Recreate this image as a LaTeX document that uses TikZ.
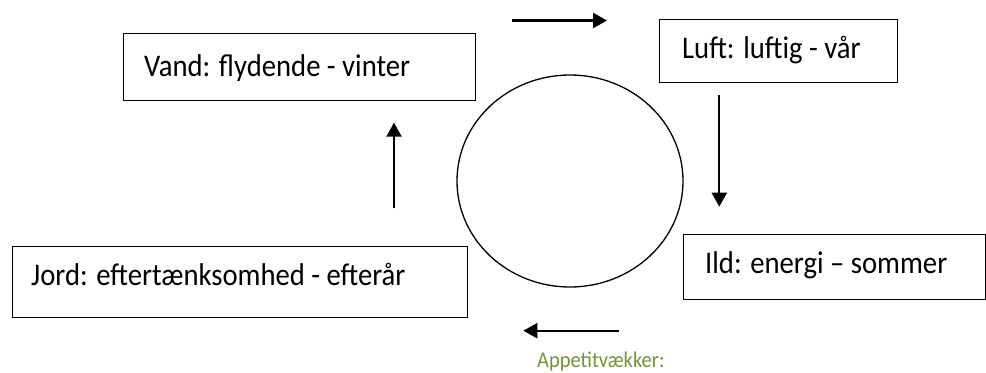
\documentclass[tikz,border=0pt]{standalone}
\usepackage{fontspec}
\setmainfont{Carlito}[FakeStretch=0.91]
\usetikzlibrary{arrows.meta,shapes.geometric}
\definecolor{olivegreen}{RGB}{118,146,60}
\begin{document}
\begin{tikzpicture}[x=1bp,y=-1bp,
  box/.style={draw, line width=1.3bp, inner sep=0pt, anchor=north west},
  lbl/.style={anchor=base west, inner sep=0pt, font=\fontsize{31.5bp}{36bp}\selectfont},
  note/.style={anchor=base west, inner sep=0pt, text=olivegreen, font=\fontsize{22.5bp}{26bp}\selectfont},
  arr/.style={line width=2.3bp, -{Triangle[width=15bp,length=14bp]}}]
\useasboundingbox (0,0) rectangle (986,372);
% boxes
\node[box, minimum width=352bp, minimum height=67bp] (vandbox) at (123,33) {};
\node[box, minimum width=238bp, minimum height=63bp] (luftbox) at (659,19) {};
\node[box, minimum width=455bp, minimum height=71bp] (jordbox) at (12,246) {};
\node[box, minimum width=302bp, minimum height=65bp] (ildbox) at (683,234) {};
% labels
\node[lbl] (vand) at (144,76) {Vand: flydende - vinter};
\node[lbl] (luft) at (682,58.5) {Luft: luftig - vår};
\node[lbl] (jord) at (31,285) {Jord: eftertænksomhed - efterår};
\node[lbl] (ild) at (705,273.5) {Ild: energi – sommer};
\node[note] (app) at (537,367) {Appetitvækker:};
% circle
\node[draw, ellipse, line width=1.3bp, inner sep=0pt, minimum width=226bp, minimum height=212bp] (circ) at (570,181) {};
% arrows
\coordinate (t1) at (512,20.5); \coordinate (t2) at (607,20.5);
\coordinate (r1) at (719.3,95); \coordinate (r2) at (719.3,206.7);
\coordinate (b1) at (619.3,330.7); \coordinate (b2) at (523.3,330.7);
\coordinate (l1) at (394,208.3); \coordinate (l2) at (394,122.7);
\draw[arr] (t1) -- (t2);
\draw[arr] (r1) -- (r2);
\draw[arr] (b1) -- (b2);
\draw[arr] (l1) -- (l2);
\end{tikzpicture}
\end{document}
